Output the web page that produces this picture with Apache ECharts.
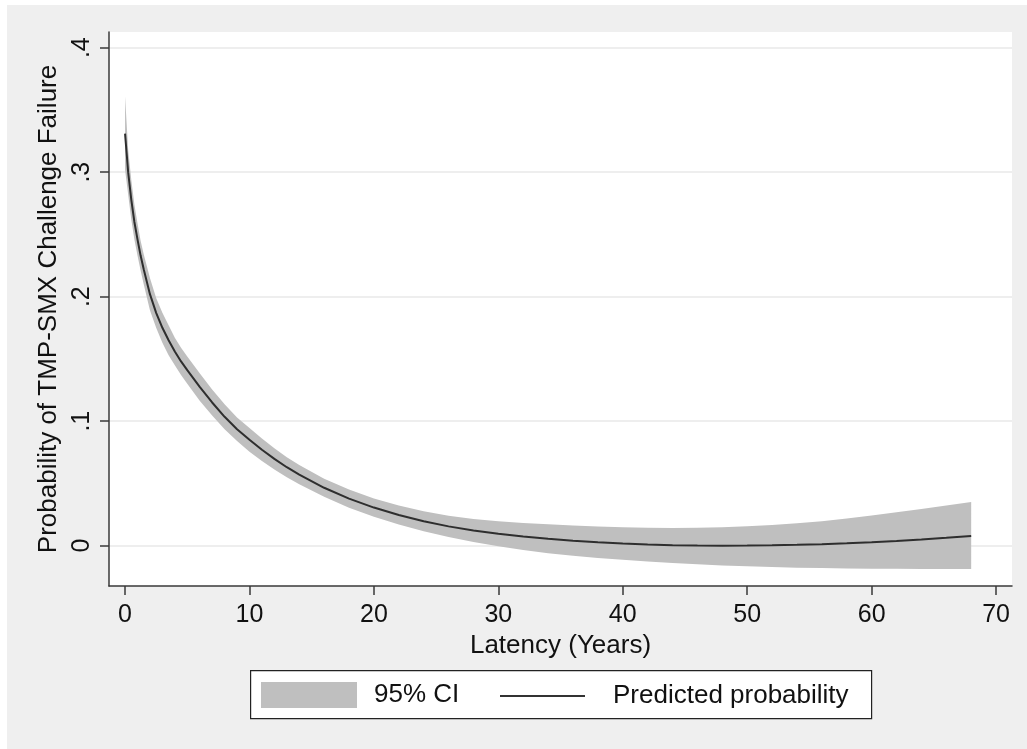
<!DOCTYPE html>
<html>
<head>
<meta charset="utf-8">
<script src="https://cdn.jsdelivr.net/npm/echarts@6/dist/echarts.min.js"></script>
<style>
html,body{margin:0;padding:0;background:#ffffff;}
#chart{position:absolute;left:7px;top:5px;width:1020px;height:744px;}
</style>
</head>
<body>
<div id="chart"></div>
<script>
// Latency (years) at which values were read
const latency = [0,0.25,0.5,0.75,1,1.25,1.5,2,2.5,3,3.5,4,4.5,5,6,7,8,9,10,11,12,13,14,16,18,20,22,24,26,28,30,32,34,36,38,40,42,44,46,48,50,52,54,56,58,60,62,64,66,68];
// Predicted probability
const predicted = [0.331,0.300,0.278,0.260,0.246,0.233,0.222,0.202,0.187,0.175,0.165,0.156,0.148,0.141,0.1275,0.115,0.1035,0.0935,0.085,0.077,0.0697,0.063,0.057,0.0465,0.0378,0.0306,0.0246,0.0196,0.0155,0.0122,0.0095,0.0073,0.0055,0.0040,0.0027,0.0017,0.0009,0.0004,0.0001,0.0000,0.0001,0.0003,0.0007,0.0012,0.0019,0.0027,0.0037,0.0049,0.0063,0.0078];
// 95% CI lower and upper bounds
const ciLower = [0.302,0.282,0.262,0.246,0.233,0.221,0.210,0.189,0.175,0.163,0.153,0.145,0.137,0.130,0.1165,0.1045,0.0935,0.084,0.0755,0.068,0.0612,0.055,0.0493,0.0393,0.0305,0.0233,0.0170,0.0116,0.0070,0.0030,-0.0005,-0.0035,-0.0060,-0.0082,-0.0100,-0.0113,-0.0127,-0.0140,-0.0150,-0.0159,-0.0166,-0.0172,-0.0177,-0.0180,-0.0183,-0.0185,-0.0186,-0.0187,-0.0188,-0.0188];
const ciUpper = [0.361,0.318,0.294,0.274,0.259,0.245,0.234,0.215,0.199,0.187,0.177,0.167,0.159,0.152,0.1385,0.1255,0.1135,0.103,0.0945,0.086,0.0782,0.071,0.0647,0.0537,0.0451,0.0379,0.0322,0.0276,0.0240,0.0214,0.0196,0.0183,0.0172,0.0162,0.0153,0.0147,0.0143,0.0142,0.0143,0.0147,0.0155,0.0166,0.018,0.0197,0.0218,0.0242,0.0268,0.0295,0.0323,0.035];
// Tick values
const xTicks = [0,10,20,30,40,50,60,70];
const yTicks = [0,0.1,0.2,0.3,0.4];
const yTickLabels = ['0','.1','.2','.3','.4'];

const FONT = "'Liberation Sans', Arial, Helvetica, sans-serif";
const chart = echarts.init(document.getElementById('chart'), null, {renderer:'canvas'});

const option = {
  animation: false,
  backgroundColor: '#efefef',
  textStyle: {fontFamily: FONT},
  grid: {left: 102, top: 27, right: 15, bottom: 163, show: true, backgroundColor: '#ffffff', borderWidth: 0},
  xAxis: {
    type: 'value', min: -1.29, max: 71.28,
    name: 'Latency (Years)', nameLocation: 'middle', nameGap: 43,
    nameTextStyle: {fontSize: 26, color: '#111', fontFamily: FONT},
    axisLine: {show: true, onZero: false, lineStyle: {color: '#3a3a3a', width: 1.5}},
    axisTick: {show: true, customValues: xTicks, length: 9, lineStyle: {color: '#3a3a3a', width: 1.5}},
    axisLabel: {customValues: xTicks, fontSize: 25, color: '#111', margin: 17, fontFamily: FONT},
    splitLine: {show: false}
  },
  yAxis: {
    type: 'value', min: -0.0324, max: 0.4126,
    name: 'Probability of TMP-SMX Challenge Failure', nameLocation: 'middle', nameGap: 39,
    nameTextStyle: {fontSize: 26, color: '#111', fontFamily: FONT},
    axisLine: {show: true, onZero: false, lineStyle: {color: '#3a3a3a', width: 1.5}},
    axisTick: {show: true, customValues: yTicks, length: 9, lineStyle: {color: '#3a3a3a', width: 1.5}},
    axisLabel: {customValues: yTicks, rotate: 90, fontSize: 25, color: '#111', margin: 14, fontFamily: FONT,
      formatter: function(v){ const i = yTicks.findIndex(t => Math.abs(t - v) < 1e-9); return i >= 0 ? yTickLabels[i] : ''; }},
    splitLine: {show: true, lineStyle: {color: '#e9e9e9', width: 1.5}}
  },
  legend: [
    {data: [{name: '95% CI', icon: 'rect'}], left: 254, top: 677, padding: 0, itemWidth: 96, itemHeight: 26,
     textStyle: {fontSize: 26, color: '#111', fontFamily: FONT, padding: [0,0,0,12]}, selectedMode: false},
    {data: [{name: 'Predicted probability', icon: 'rect'}], left: 493, top: 678, padding: 0, itemWidth: 85, itemHeight: 2,
     itemStyle: {color: '#333333'},
     textStyle: {fontSize: 26, color: '#111', fontFamily: FONT, padding: [0,0,0,23]}, selectedMode: false}
  ],
  graphic: [{
    type: 'rect', left: 243, top: 665, z: -1,
    shape: {width: 621, height: 48},
    style: {fill: '#ffffff', stroke: '#222', lineWidth: 1.2}
  }],
  series: [
    {
      name: '95% CI', type: 'custom',
      itemStyle: {color: '#bfbfbf'},
      data: latency.map((x, i) => [x, ciLower[i], ciUpper[i]]),
      encode: {x: 0, y: [1, 2]},
      clip: true,
      renderItem: function(params, api){
        if (params.dataIndex !== 0) return null;
        const pts = [];
        for (let i = 0; i < latency.length; i++) pts.push(api.coord([latency[i], ciUpper[i]]));
        for (let i = latency.length - 1; i >= 0; i--) pts.push(api.coord([latency[i], ciLower[i]]));
        return {type: 'polygon', shape: {points: pts, smooth: 0}, style: {fill: '#bfbfbf', stroke: null}};
      },
      z: 1
    },
    {
      name: 'Predicted probability', type: 'line', showSymbol: false, symbol: 'none',
      smooth: false,
      data: latency.map((x, i) => [x, predicted[i]]),
      lineStyle: {color: '#2e2e2e', width: 2},
      itemStyle: {color: '#2e2e2e'},
      z: 2
    }
  ]
};
chart.setOption(option);
</script>
</body>
</html>
